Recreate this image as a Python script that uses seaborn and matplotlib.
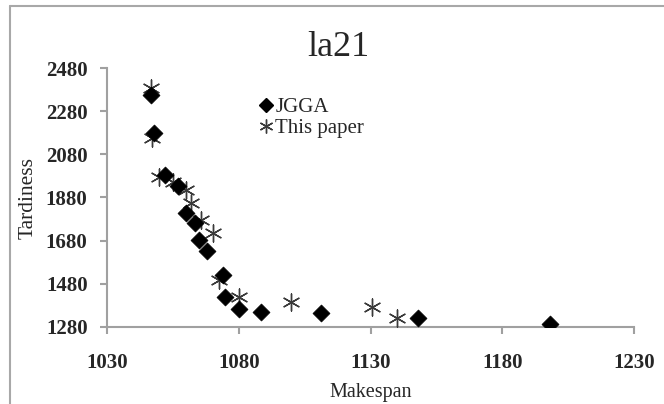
import matplotlib
matplotlib.use("Agg")
import matplotlib.pyplot as plt
import seaborn as sns
import pandas as pd
from matplotlib.lines import Line2D

title = "la21"
x_label = "Makespan"
y_label = "Tardiness"
x_ticks = [1030, 1080, 1130, 1180, 1230]
y_ticks = [1280, 1480, 1680, 1880, 2080, 2280, 2480]

jgga_makespan = [1046.6, 1048.0, 1051.9, 1057.0, 1059.8, 1063.4, 1065.0, 1067.8,
                 1074.0, 1074.8, 1080.1, 1088.3, 1111.1, 1148.2, 1198.2]
jgga_tardiness = [2355, 2178, 1984, 1935, 1807, 1760, 1683, 1633,
                  1521, 1420, 1362, 1351, 1343, 1323, 1294]

paper_makespan = [1046.6, 1047.0, 1049.8, 1055.2, 1059.8, 1061.9, 1065.7, 1070.1,
                  1072.6, 1080.1, 1099.7, 1130.5, 1140.0]
paper_tardiness = [2386, 2154, 1976, 1953, 1915, 1853, 1776, 1714,
                   1498, 1420, 1397, 1374, 1320]

sns.set_theme(style="white")
plt.rcParams["font.family"] = ["Liberation Serif", "DejaVu Serif"]

W, H = 664, 404
fig = plt.figure(figsize=(W / 100, H / 100), dpi=100)
ax = fig.add_axes([107 / W, 1 - 327 / H, (634 - 107) / W, (327 - 68) / H])

df_j = pd.DataFrame({"x": jgga_makespan, "y": jgga_tardiness})
df_p = pd.DataFrame({"x": paper_makespan, "y": paper_tardiness})

sns.scatterplot(data=df_p, x="x", y="y", ax=ax, marker=(6, 2, 0), s=150,
                color="#3a3a3a", linewidth=1.0, zorder=3, legend=False)
sns.scatterplot(data=df_j, x="x", y="y", ax=ax, marker="D", s=75,
                color="black", edgecolor="black", linewidth=0.5, zorder=4, legend=False)

ax.set_xlim(1030, 1230)
ax.set_ylim(1280, 2480)
ax.set_xticks(x_ticks)
ax.set_yticks(y_ticks)
ax.set_xticklabels([str(v) for v in x_ticks], fontsize=15, fontweight="bold")
ax.set_yticklabels([str(v) for v in y_ticks], fontsize=15, fontweight="bold")
ax.tick_params(axis="x", direction="out", length=5, width=1.5, color="#a0a0a0", pad=14)
ax.tick_params(axis="y", direction="out", length=5, width=1.5, color="#a0a0a0", pad=9)
ax.xaxis.set_ticks_position("bottom")
ax.yaxis.set_ticks_position("left")
for s in ["top", "right"]:
    ax.spines[s].set_visible(False)
for s in ["left", "bottom"]:
    ax.spines[s].set_color("#a0a0a0")
    ax.spines[s].set_linewidth(1.5)
ax.grid(False)

ax.set_xlabel(x_label, fontsize=14.5)
ax.set_ylabel(y_label, fontsize=15.5)
ax.xaxis.set_label_coords(0.5, -(392 - 327) / 259)
ax.xaxis.label.set_va("center")
ax.yaxis.set_label_coords((38 - 107) / 527, 0.5)
fig.text(338 / W, 1 - 47 / H, title, fontsize=26, ha="center", va="center")

handles = [
    Line2D([], [], marker="D", color="black", linestyle="none", markersize=7),
    Line2D([], [], marker=(6, 2, 0), color="#3a3a3a", linestyle="none", markersize=10, markeredgewidth=1),
]
ax.legend(handles, ["JGGA", "This paper"], loc="upper left",
          bbox_to_anchor=(0.27, 0.925), frameon=False, fontsize=15,
          handlelength=0.6, handletextpad=0.15, borderpad=0, labelspacing=0.05)

# chart-area border
fig.add_artist(Line2D([10 / W, 10 / W], [0, 1 - 6 / H], transform=fig.transFigure,
                      color="#a8a8a8", linewidth=1.5))
fig.add_artist(Line2D([10 / W, 1], [1 - 6 / H, 1 - 6 / H], transform=fig.transFigure,
                      color="#a8a8a8", linewidth=1.5))

fig.savefig("out.png", dpi=100)
